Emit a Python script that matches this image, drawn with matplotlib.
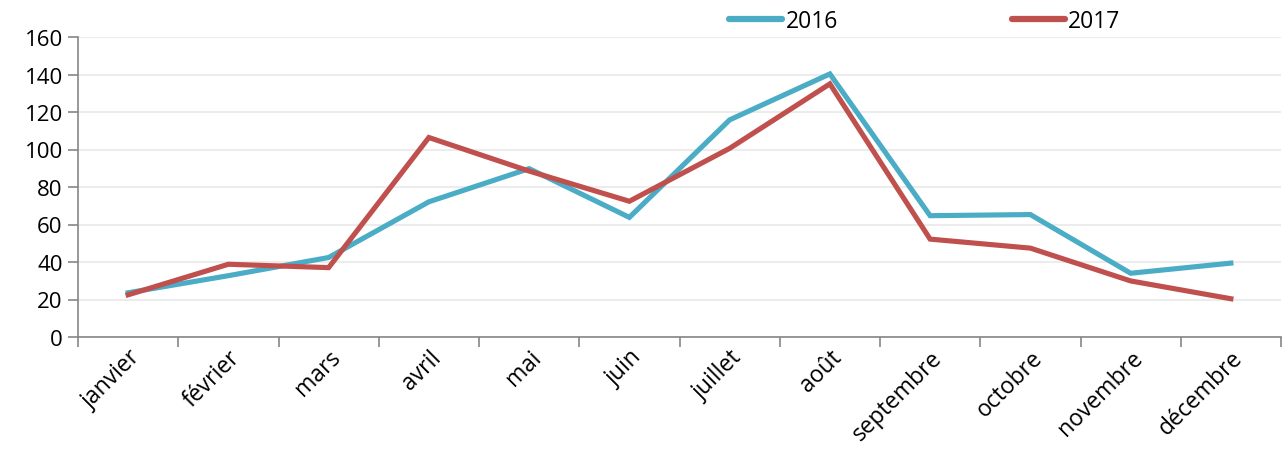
import matplotlib
matplotlib.use("Agg")
import matplotlib.pyplot as plt

months = ["janvier", "février", "mars", "avril", "mai", "juin", "juillet",
          "août", "septembre", "octobre", "novembre", "décembre"]
values_2016 = [23.6, 32.7, 42.4, 72.1, 89.8, 63.8, 115.8, 140.3, 64.7, 65.3, 34.0, 39.4]
values_2017 = [22.5, 38.8, 37.0, 106.4, 88.5, 72.4, 100.6, 135.0, 52.2, 47.4, 29.9, 20.4]
y_ticks = [0, 20, 40, 60, 80, 100, 120, 140, 160]

plt.rcParams["font.family"] = ["Open Sans", "DejaVu Sans"]

fig = plt.figure(figsize=(12.82, 4.52), dpi=100)
ax = fig.add_axes([78 / 1282, 114 / 452, 1203 / 1282, 300 / 452])

x = list(range(len(months)))
ax.plot(x, values_2016, color="#4BACC6", lw=3.7, solid_joinstyle="miter", label="2016", zorder=3)
ax.plot(x, values_2017, color="#C0504D", lw=3.7, solid_joinstyle="miter", label="2017", zorder=4)

ax.set_xlim(-0.5, 11.5)
ax.set_ylim(0, 160)
ax.set_yticks(y_ticks)
ax.tick_params(axis="y", labelsize=16, length=7, width=1.2, color="#868686", pad=4)

ax.set_xticks([i - 0.5 for i in range(len(months) + 1)])
ax.set_xticklabels([])
ax.set_xticks(x, minor=True)
ax.set_xticklabels(months, minor=True, rotation=45, ha="right", va="top",
                   rotation_mode="anchor", fontsize=16.5)
ax.tick_params(axis="x", which="major", length=7, width=1.2, color="#868686")
ax.tick_params(axis="x", which="minor", length=0, pad=6)

ax.grid(axis="y", color="#ececec", lw=1.5, zorder=0)
for side in ["top", "right"]:
    ax.spines[side].set_visible(False)
for side in ["left", "bottom"]:
    ax.spines[side].set_color("#868686")
    ax.spines[side].set_linewidth(1.2)

leg = fig.legend(loc="center", bbox_to_anchor=(925 / 1282, 1 - 22 / 452), ncol=2,
                 frameon=False, fontsize=16.5, handlelength=2.3, handletextpad=0.15,
                 columnspacing=7.6)
for line in leg.get_lines():
    line.set_linewidth(4.5)
    line.set_solid_capstyle("round")

fig.savefig("out.png", dpi=100)
